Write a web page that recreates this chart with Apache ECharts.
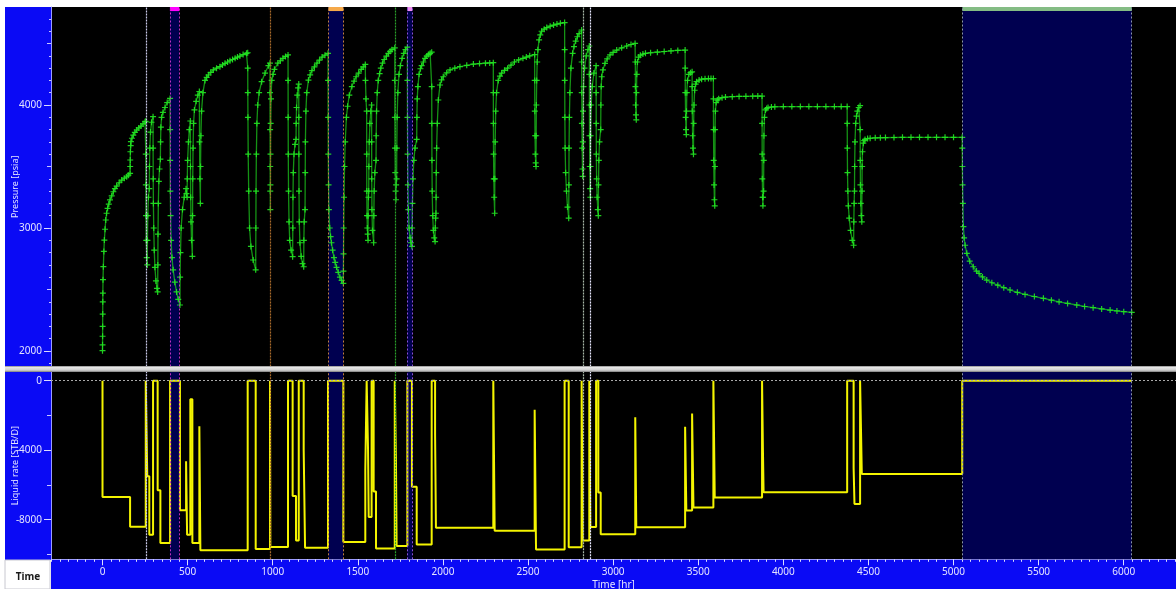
<!DOCTYPE html>
<html>
<head>
<meta charset="utf-8">
<script src="https://cdn.jsdelivr.net/npm/echarts@6/dist/echarts.min.js"></script>
<style>
  html, body { margin: 0; padding: 0; background: #ffffff; }
  #chart { width: 1176px; height: 589px; }
</style>
</head>
<body>
<div id="chart"></div>
<script>
// ---- Liquid rate history (STB/D, negative = injection); each value holds from its start time ----
const rateTimes = [0, 162, 254, 263, 275, 297, 324, 340, 397, 455, 491, 497, 516, 528, 569, 575, 853, 900, 984, 986,
  1090, 1117, 1137, 1153, 1182, 1190, 1325, 1415, 1544, 1552, 1560, 1564, 1581, 1593, 1607, 1717, 1724, 1728, 1791,
  1818, 1846, 1934, 1954, 1959, 2296, 2304, 2539, 2547, 2715, 2739, 2815, 2821, 2860, 2866, 2900, 2913, 2927, 3130,
  3136, 3423, 3430, 3464, 3472, 3589, 3597, 3875, 3880, 3884, 4375, 4413, 4418, 4451, 4461, 5051, 6048];
const rateValues = [-6700, -8400, 0, -5500, -8860, 0, -6310, -9340, 0, -7460, -4640, -8860, -1070, -9340, -2620, -9760, 0, -9680, 0, -9570,
  0, -6640, -9200, 0, -3970, -9610, 0, -9280, -5160, 0, -3950, -7840, 0, -6370, -9660, 0, -4490, -9510, 0,
  -6110, -9430, 0, -3070, -8460, 0, -8630, -1670, -9720, 0, -9590, 0, -9190, 0, -8420, 0, -6440, -8840, -2110,
  -8440, -2650, -7470, -1890, -7300, 0, -6720, 0, -3900, -6420, 0, -5030, -7090, 0, -5370, 0, 0];

// ---- Bottom-hole pressure readings [time hr, pressure psia] ----
const pressureEarly = [
  [0,2003],[0.2,2050],[0.5,2120],[0.8,2200],[1.2,2300],[1.6,2400],[2,2470],[3,2580],[5,2686],[8,2810],[11,2902],[15,2990],
  [19,3065],[24,3120],[30,3160],[37,3195],[44,3228],[54,3262],[64,3295],[73,3320],[83,3341],[98,3368],[113,3390],[128,3405],
  [142,3417],[152,3430],[162,3444],[162.5,3500],[163,3553],[164,3620],[165.5,3670],[167,3702],[173,3730],[181,3756],[190,3778],
  [201,3797],[213,3814],[226,3829],[238,3847],[250,3864],[254,3868],
  [254.3,3600],[254.7,3350],[255.5,3100],[257,2900],[260,2760],[263,2700],
  [264,2900],[266,3100],[270,3250],[275,3320],
  [276,3500],[278,3650],[282,3780],[288,3860],[297,3905],
  [297.3,3650],[298,3400],[299,3200],[301,3000],[304,2820],[308,2680],[314,2570],[320,2510],[324,2480],
  [325,2700],[326,2950],[328,3200],[331,3380],[335,3480],[340,3560],
  [341,3700],[343,3820],[347,3900],[355,3940],[367,3980],[380,4020],[397,4054],
  [397.3,3800],[397.7,3550],[398.5,3300],[400,3100],[403,2900],[408,2760],[415,2660],[425,2560],[435,2480],[445,2420],[455,2374],
  [456,2600],[458,2800],[462,3000],[470,3150],[480,3250],[491,3320],
  [493,3280],[497,3250],
  [498,3400],[500,3550],[505,3700],[510,3800],[516,3870],
  [517,3500],[518,3250],[520,3050],[523,2900],[528,2770],
  [529,3100],[530,3400],[532,3650],[535,3850],[540,3960],[550,4030],[560,4080],[569,4110],
  [570,3700],[572,3400],[575,3200],
  [576,3500],[578,3750],[582,3950],[590,4100],[602,4200],[612,4225],[622,4244],[636,4265],[651,4285],[670,4300],[690,4312],
  [705,4326],[720,4339],[735,4350],[749,4360],[764,4370],[779,4380],[793,4390],[807,4398],[826,4410],[846,4420],[853,4425],
  [853.3,4300],[853.7,4100],[854.5,3900],[856,3600],[859,3300],[864,3000],[872,2850],[885,2740],[900,2660]
];
const pressureMiddle = [
  [901,3000],[902,3300],[904,3600],[907,3850],[912,4000],[920,4100],[935,4190],[955,4260],[975,4320],[984,4340],
  [984.3,4100],[984.7,3800],[985.2,3500],[985.6,3300],[986,3150],
  [986.5,3350],[987,3600],[988,3850],[990,4050],[994,4200],[1002,4250],[1010,4290],[1030,4340],[1045,4360],[1060,4380],[1075,4395],[1090,4407],
  [1090.3,4200],[1090.7,3900],[1091.5,3600],[1093,3300],[1096,3050],[1100,2900],[1108,2820],[1117,2767],
  [1118,3000],[1119,3250],[1121,3450],[1125,3600],[1131,3680],[1137,3720],
  [1138,3850],[1140,3980],[1144,4080],[1149,4140],[1153,4170],
  [1153.3,3900],[1153.7,3600],[1154.5,3300],[1156,3050],[1160,2880],[1167,2770],[1175,2710],[1182,2685],
  [1183,2900],[1185,3050],[1190,3150],
  [1191,3450],[1192,3700],[1195,3950],[1200,4100],[1210,4203],[1220,4245],[1230,4280],[1245,4310],[1260,4340],[1275,4365],[1290,4390],[1307,4405],[1325,4420],
  [1325.3,4200],[1325.7,3900],[1326.5,3600],[1328,3350],[1330,3150],[1335,3000],[1340,2930],[1345,2880],[1352,2820],[1360,2760],[1367,2720],
  [1375,2680],[1385,2640],[1395,2600],[1405,2575],[1415,2550],
  [1415.5,2650],[1416,2790],[1417,3000],[1419,3250],[1422,3500],[1426,3700],[1433,3900],[1440,3990],[1450,4080],[1465,4150],[1478,4195],
  [1490,4230],[1505,4260],[1520,4290],[1532,4310],[1544,4330],
  [1545,4200],[1548,4050],[1552,3950],
  [1552.3,3600],[1552.7,3300],[1554,3100],[1556,3000],[1558,2950],[1560,2900],
  [1561,3100],[1562.5,3250],[1564,3300],
  [1565,3500],[1567,3700],[1571,3850],[1576,3950],[1581,4000],
  [1581.3,3700],[1581.7,3400],[1583,3150],[1586,2980],[1593,2880],
  [1594,3100],[1596,3300],[1600,3450],[1607,3550],
  [1608,3750],[1610,3950],[1614,4100],[1620,4200],[1628,4255],[1635,4300],[1645,4340],[1655,4370],[1668,4398],[1680,4420],[1690,4437],[1700,4450],[1717,4465],
  [1717.3,4200],[1717.7,3900],[1718.5,3650],[1720,3450],[1722,3300],[1724,3230],
  [1725,3350],[1728,3400],
  [1729,3650],[1731,3900],[1735,4100],[1742,4250],[1750,4320],[1760,4380],[1770,4420],[1780,4450],[1791,4470],
  [1791.3,4200],[1791.7,3900],[1792.5,3600],[1794,3350],[1797,3150],[1801,3000],[1807,2920],[1812,2880],[1818,2850],
  [1819,3000],[1821,3200],[1824,3400],[1829,3550],[1836,3650],[1846,3720],
  [1847,3900],[1849,4050],[1853,4150],[1860,4250],[1868,4295],[1875,4320],[1885,4350],[1895,4380],[1905,4398],[1915,4410],[1925,4420],[1934,4430],
  [1934.3,4150],[1934.7,3850],[1935.5,3550],[1937,3300],[1940,3100],[1944,2980],[1949,2920],[1954,2890],
  [1955,3000],[1957,3080],[1959,3120]
];
const pressureLate = [
  [1960,3250],[1961,3450],[1963,3650],[1967,3850],[1973,4041],[1983,4163],[1992,4205],[2002,4230],[2022,4262],[2042,4285],[2070,4300],
  [2100,4312],[2140,4323],[2179,4333],[2215,4337],[2250,4340],[2275,4342],[2296,4344],
  [2296.3,4100],[2296.7,3850],[2297.5,3600],[2299,3400],[2301,3250],[2304,3120],
  [2305,3400],[2307,3700],[2310,3950],[2315,4100],[2325,4200],[2335,4235],[2345,4260],[2362,4282],[2380,4300],[2400,4325],[2420,4350],
  [2445,4367],[2470,4380],[2490,4390],[2510,4400],[2539,4410],
  [2539.3,4200],[2539.8,3950],[2541,3750],[2543,3600],[2545,3530],[2547,3500],
  [2548,3750],[2549,4000],[2551,4200],[2554,4350],[2558,4450],[2565,4530],[2572,4570],[2580,4600],[2595,4617],[2610,4630],[2630,4641],
  [2650,4650],[2670,4658],[2690,4665],[2715,4670],
  [2715.3,4450],[2715.7,4200],[2716.5,3900],[2718,3650],[2721,3450],[2726,3300],[2732,3170],[2739,3080],
  [2740,3350],[2741,3650],[2743,3900],[2746,4100],[2752,4300],[2762,4420],[2770,4475],[2780,4520],[2790,4555],[2800,4580],[2815,4610],
  [2815.3,4350],[2815.7,4100],[2816.5,3850],[2818,3650],[2820,3480],[2821,3420],
  [2822,3700],[2823,3950],[2826,4150],[2832,4300],[2842,4400],[2852,4450],[2860,4480],
  [2860.3,4250],[2860.7,4000],[2861.5,3750],[2863,3500],[2865,3320],[2866,3250],
  [2867,3500],[2868,3750],[2871,4000],[2877,4150],[2887,4260],[2900,4320],
  [2900.3,4100],[2900.7,3850],[2901.5,3600],[2903,3400],[2906,3250],[2910,3150],[2913,3100],
  [2914,3350],[2916,3550],[2920,3700],[2927,3800]
];
const pressureFinal = [
  [2928,4000],[2930,4150],[2933,4230],[2940,4285],[2952,4339],[2965,4375],[2982,4407],[3000,4428],[3021,4447],[3050,4465],[3080,4480],
  [3105,4492],[3129,4501],
  [3130.3,4350],[3131,4150],[3132,4000],[3134,3920],[3136,3880],
  [3137,4100],[3139,4250],[3143,4350],[3150,4390],[3160,4405],[3175,4414],[3190,4420],[3220,4425],[3260,4430],[3300,4435],[3340,4440],
  [3380,4444],[3423,4447],
  [3423.3,4300],[3424,4100],[3426,3900],[3428,3800],[3430,3760],
  [3431,3950],[3433,4100],[3437,4200],[3445,4250],[3455,4263],[3464,4270],
  [3464.3,4150],[3465,3950],[3467,3750],[3469,3650],[3472,3600],
  [3473,3850],[3475,4000],[3479,4120],[3485,4170],[3490,4190],[3505,4203],[3520,4210],[3540,4213],[3560,4215],[3575,4215],[3589,4215],
  [3589.3,4050],[3590,3800],[3591,3550],[3593,3350],[3595,3230],[3597,3180],
  [3598,3500],[3599,3800],[3601,3950],[3605,4020],[3612,4040],[3620,4050],[3640,4060],[3660,4065],[3700,4068],[3740,4070],[3780,4071],
  [3820,4072],[3850,4073],[3875,4073],
  [3875.3,3850],[3875.7,3600],[3876.5,3400],[3878,3250],[3880,3180],
  [3881,3250],[3884,3300],
  [3885,3550],[3886,3750],[3889,3900],[3895,3960],[3902,3972],[3910,3980],[3930,3984],[3950,3986],[4000,3987],[4050,3987],[4100,3987],
  [4150,3987],[4200,3987],[4250,3987],[4300,3987],[4340,3987],[4375,3987],
  [4375.3,3850],[4376,3650],[4377,3450],[4379,3300],[4382,3180],[4387,3080],[4395,2980],[4405,2900],[4413,2860],
  [4414,3050],[4416,3200],[4418,3300],
  [4419,3500],[4421,3700],[4425,3850],[4430,3910],[4435,3950],[4443,3980],[4451,3995],
  [4451.3,3800],[4452,3550],[4453,3350],[4455,3200],[4458,3100],[4461,3050],
  [4462,3300],[4463,3500],[4465,3620],[4470,3690],[4475,3710],[4480,3720],[4495,3727],[4510,3730],[4540,3733],[4570,3734],[4600,3735],
  [4650,3736],[4700,3737],[4750,3737],[4800,3737],[4850,3737],[4900,3737],[4950,3737],[5000,3737],[5051,3737],
  [5051.3,3650],[5052,3500],[5053,3350],[5055,3200],[5058,3011],[5062,2920],[5068,2860],[5078,2794],[5095,2730],[5116,2685],[5135,2650],
  [5150,2630],[5170,2602],[5195,2577],[5225,2555],[5260,2535],[5295,2515],[5332,2496],[5375,2477],[5420,2460],[5475,2443],[5528,2428],
  [5575,2413],[5620,2400],[5670,2387],[5724,2374],[5770,2362],[5820,2352],[5870,2342],[5920,2333],[5960,2326],[6000,2320],[6047,2314]
];

// ---- Flagged periods and event markers (hr) ----
const shadedPeriods = [[396, 451], [1327, 1415], [1791, 1820], [5052, 6047]];
const shadeBarColors = ['#ff00ff', '#f5a94a', '#f08cf0', '#84bc84'];
const shadeEdgeColors = ['#c030c0', '#c08040', '#8a50d8', '#8a96a8'];
const markerTimes = [259, 984, 1720, 2822, 2865];
const markerColors = ['#c8c8e8', '#a86a2a', '#2aa02a', '#a8b8a8', '#e8e8ff'];

// ---- Axis ranges and tick values ----
const timeRange = [-302.6, 6307];
const pressureRange = [1874, 4797];
const rateRange = [-10279, 500];
const timeLabels = [0, 500, 1000, 1500, 2000, 2500, 3000, 3500, 4000, 4500, 5000, 5500, 6000];
const pressureLabels = [2000, 3000, 4000];
const pressureHalfTicks = [2500, 3500, 4500];
const rateLabels = [0, -4000, -8000];
const rateMinorTicks = [-2000, -6000, -10000];

const timeMinorTicks = [];
for (let t = -300; t <= 6300; t += 50) timeMinorTicks.push(t);
const pressureMinorTicks = [];
for (let p = 1900; p <= 4700; p += 100) pressureMinorTicks.push(p);

const FONT = 'Noto Sans';
const LABEL_COLOR = '#e4e4ff';
const PANEL_BLUE = '#0a0af5';
const AXIS_LINE = '#9c9cff';
const plainNumber = v => String(Math.round(v));

const pressureData = pressureEarly.concat(pressureMiddle, pressureLate, pressureFinal);
const rateData = [[rateTimes[0], 0]].concat(rateTimes.map((t, i) => [t, rateValues[i]]));

const plusSymbol = 'path://M2,0h1v2h2v1h-2v2h-1v-2h-2v-1h2z';

function shadeAreas(withBars) {
  const areas = shadedPeriods.map(p => [
    { xAxis: p[0], itemStyle: { color: '#000050' } },
    { xAxis: p[1] }
  ]);
  if (withBars) {
    shadedPeriods.forEach((p, i) => {
      areas.push([
        { coord: [p[0], pressureRange[1] - 33], itemStyle: { color: shadeBarColors[i] } },
        { coord: [p[1], pressureRange[1]] }
      ]);
    });
  }
  return areas;
}

function verticalLines() {
  const lines = [];
  shadedPeriods.forEach((p, i) => {
    lines.push({ xAxis: p[0], lineStyle: { color: shadeEdgeColors[i], type: [2, 2], width: 1 } });
    lines.push({ xAxis: p[1], lineStyle: { color: shadeEdgeColors[i], type: [2, 2], width: 1 } });
  });
  markerTimes.forEach((t, i) => {
    lines.push({ xAxis: t, lineStyle: { color: markerColors[i], type: [2, 1], width: 1.2 } });
  });
  return lines;
}

const hiddenAxisParts = {
  axisLine: { show: false, onZero: false },
  axisTick: { show: false },
  axisLabel: { show: false },
  splitLine: { show: false }
};

const option = {
  animation: false,
  backgroundColor: '#ffffff',
  graphic: [
    { type: 'rect', z: -10, shape: { x: 5, y: 7, width: 46, height: 553 }, style: { fill: PANEL_BLUE } },
    { type: 'rect', z: -10, shape: { x: 51, y: 559, width: 1125, height: 30 }, style: { fill: PANEL_BLUE } },
    { type: 'rect', z: 50, shape: { x: 5, y: 560, width: 45, height: 29 }, style: { fill: '#ffffff', stroke: '#c8c8d0', lineWidth: 1 } },
    { type: 'text', z: 51, x: 28, y: 577, style: { text: 'Time', fill: '#1a1a1a', font: 'bold 10px "Noto Sans"', align: 'center', verticalAlign: 'middle' } },
    { type: 'rect', z: 100, shape: { x: 5, y: 366, width: 1171, height: 6 },
      style: { fill: { type: 'linear', x: 0, y: 0, x2: 0, y2: 1,
        colorStops: [{ offset: 0, color: '#8a8a8a' }, { offset: 0.25, color: '#e6e6e6' }, { offset: 0.7, color: '#cfcfcf' }, { offset: 1, color: '#7a7a7a' }] } } }
  ],
  grid: [
    { left: 51, top: 7, right: 0, height: 359.5, show: true, backgroundColor: '#000000', borderWidth: 0,
      containLabel: false, outerBoundsMode: 'none' },
    { left: 51, top: 372, right: 0, height: 187.3, show: true, backgroundColor: '#000000', borderWidth: 0,
      containLabel: false, outerBoundsMode: 'none' }
  ],
  xAxis: [
    Object.assign({ type: 'value', gridIndex: 0, min: timeRange[0], max: timeRange[1] }, hiddenAxisParts),
    {
      type: 'value', gridIndex: 1, min: timeRange[0], max: timeRange[1], position: 'bottom',
      name: 'Time [hr]', nameLocation: 'middle', nameGap: 21, nameMoveOverlap: false,
      nameTextStyle: { color: LABEL_COLOR, fontFamily: FONT, fontSize: 10 },
      axisLine: { show: true, onZero: false, lineStyle: { color: AXIS_LINE, width: 1 } },
      axisTick: { show: true, length: 6, customValues: timeLabels, lineStyle: { color: '#dcdcff' } },
      axisLabel: { show: true, customValues: timeLabels, formatter: plainNumber, margin: 8, color: LABEL_COLOR, fontFamily: FONT, fontSize: 10 },
      splitLine: { show: false }
    },
    {
      type: 'value', gridIndex: 1, min: timeRange[0], max: timeRange[1], position: 'bottom',
      axisLine: { show: false, onZero: false },
      axisTick: { show: true, length: 2.5, customValues: timeMinorTicks, lineStyle: { color: '#dcdcff' } },
      axisLabel: { show: false },
      splitLine: { show: false }
    }
  ],
  yAxis: [
    {
      type: 'value', gridIndex: 0, min: pressureRange[0], max: pressureRange[1], position: 'left',
      name: 'Pressure [psia]', nameLocation: 'middle', nameGap: 31, nameMoveOverlap: false,
      nameTextStyle: { color: LABEL_COLOR, fontFamily: FONT, fontSize: 9 },
      axisLine: { show: true, onZero: false, lineStyle: { color: AXIS_LINE, width: 1 } },
      axisTick: { show: true, length: 7, customValues: pressureLabels, lineStyle: { color: '#dcdcff' } },
      axisLabel: { show: true, customValues: pressureLabels, formatter: plainNumber, margin: 9, color: LABEL_COLOR, fontFamily: FONT, fontSize: 10 },
      splitLine: { show: false }
    },
    {
      type: 'value', gridIndex: 0, min: pressureRange[0], max: pressureRange[1], position: 'left',
      axisLine: { show: false, onZero: false },
      axisTick: { show: true, length: 2, customValues: pressureMinorTicks, lineStyle: { color: '#c8c8ff' } },
      axisLabel: { show: false }, splitLine: { show: false }
    },
    {
      type: 'value', gridIndex: 0, min: pressureRange[0], max: pressureRange[1], position: 'left',
      axisLine: { show: false, onZero: false },
      axisTick: { show: true, length: 4, customValues: pressureHalfTicks, lineStyle: { color: '#c8c8ff' } },
      axisLabel: { show: false }, splitLine: { show: false }
    },
    {
      type: 'value', gridIndex: 1, min: rateRange[0], max: rateRange[1], position: 'left',
      name: 'Liquid rate [STB/D]', nameLocation: 'middle', nameGap: 31, nameMoveOverlap: false,
      nameTextStyle: { color: LABEL_COLOR, fontFamily: FONT, fontSize: 9 },
      axisLine: { show: true, onZero: false, lineStyle: { color: AXIS_LINE, width: 1 } },
      axisTick: { show: true, length: 7, customValues: rateLabels, lineStyle: { color: '#dcdcff' } },
      axisLabel: { show: true, customValues: rateLabels, formatter: plainNumber, margin: 9, color: LABEL_COLOR, fontFamily: FONT, fontSize: 10,
        showMinLabel: true, showMaxLabel: true },
      splitLine: { show: false }
    },
    {
      type: 'value', gridIndex: 1, min: rateRange[0], max: rateRange[1], position: 'left',
      axisLine: { show: false, onZero: false },
      axisTick: { show: true, length: 4, customValues: rateMinorTicks, lineStyle: { color: '#c8c8ff' } },
      axisLabel: { show: false }, splitLine: { show: false }
    }
  ],
  series: [
    // flagged periods, top pane
    {
      type: 'line', xAxisIndex: 0, yAxisIndex: 0, data: [], silent: true, z: 1,
      markArea: { silent: true, data: shadeAreas(true) }
    },
    {
      type: 'line', xAxisIndex: 0, yAxisIndex: 0, data: [], silent: true, z: 2,
      markLine: { silent: true, symbol: 'none', label: { show: false }, data: verticalLines() }
    },
    // flagged periods, bottom pane
    {
      type: 'line', xAxisIndex: 1, yAxisIndex: 3, data: [], silent: true, z: 1,
      markArea: { silent: true, data: shadeAreas(false) }
    },
    {
      type: 'line', xAxisIndex: 1, yAxisIndex: 3, data: [], silent: true, z: 2,
      markLine: {
        silent: true, symbol: 'none', label: { show: false },
        data: verticalLines().concat([{ yAxis: 0, lineStyle: { color: '#a8a8a8', type: [2, 2], width: 1 } }])
      }
    },
    // pressure trace
    {
      name: 'Pressure', type: 'line', xAxisIndex: 0, yAxisIndex: 0, data: pressureData, z: 3,
      showSymbol: false, silent: true,
      lineStyle: { color: '#1ed21e', width: 1.3, opacity: 0.7 }
    },
    {
      name: 'Pressure points', type: 'scatter', xAxisIndex: 0, yAxisIndex: 0, data: pressureData, z: 4,
      symbol: plusSymbol, symbolSize: 6, silent: true,
      itemStyle: { color: '#22e622', opacity: 0.9 }
    },
    // liquid rate
    {
      name: 'Liquid rate', type: 'line', xAxisIndex: 1, yAxisIndex: 3, data: rateData, z: 3,
      step: 'end', showSymbol: false, silent: true,
      lineStyle: { color: '#f4f400', width: 2 }
    }
  ]
};

const chart = echarts.init(document.getElementById('chart'), null, { renderer: 'canvas' });
chart.setOption(option);
</script>
</body>
</html>
